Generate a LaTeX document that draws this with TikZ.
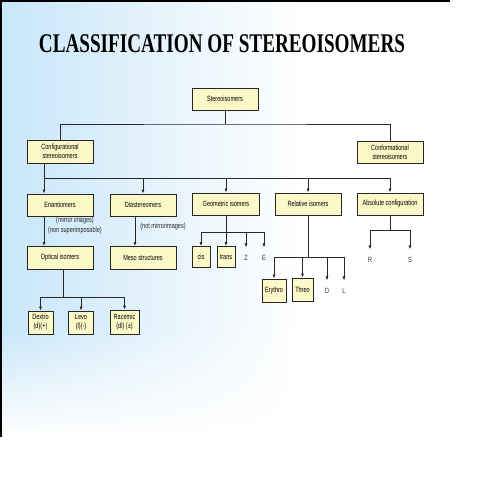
\documentclass[tikz,border=0pt]{standalone}
\usepackage{fontspec}
\setmainfont{Liberation Sans}
\newfontfamily\titlefont[FakeStretch=0.71,UprightFont={* Bold}]{Liberation Serif}
\newfontfamily\boxfont[FakeStretch=0.73]{Liberation Sans}
\usetikzlibrary{arrows.meta,shadings}
\definecolor{boxfill}{RGB}{253,248,200}
\definecolor{bgblue}{RGB}{200,230,249}
\definecolor{linegray}{RGB}{40,40,40}
\tikzset{
	isobox/.style={draw=black!85,line width=.8pt,fill=boxfill,minimum width=66pt,minimum height=22pt,inner sep=1pt,align=center,font=\boxfont\fontsize{7.6}{9}\selectfont},
	smallbox/.style={isobox,minimum width=18pt,minimum height=21pt},
	tag/.style={font=\boxfont\fontsize{7.6}{9}\selectfont,text=black!80,inner sep=0pt,outer sep=8pt},
	note/.style={font=\boxfont\fontsize{7.6}{10}\selectfont,text=black!85,align=center,inner sep=0pt},
	link/.style={draw=linegray,line width=.7pt},
	arr/.style={link,-{Latex[length=4pt,width=3pt]}}
}
\begin{document}
\begin{tikzpicture}[x=1pt,y=-1pt]
	\useasboundingbox(0,0)rectangle(495,495);
	\shade[left color=bgblue,right color=white](0,0)rectangle(300,330);
	\shade[upper left=bgblue,upper right=white,lower left=white,lower right=white](0,330)rectangle(300,437);
	\draw[line width=2pt](0,1)--(450,1);
	\draw[line width=2pt](1,0)--(1,437);
	\node(title)at(222,44){\titlefont\fontsize{27}{30}\selectfont CLASSIFICATION OF STEREOISOMERS};
	\node[isobox](stereo)at(225,99){Stereoisomers};
	\node[isobox,minimum height=23pt](config)at(60,151.5){Configurational\\stereoisomers};
	\node[isobox](conform)at(390,152.5){Conformational\\stereoisomers};
	\node[isobox](enant)at(60,205){Enantiomers};
	\node[isobox](diast)at(143,205){Diastereomers};
	\node[isobox,minimum width=67pt](geom)at(226,204){Geometric isomers};
	\node[isobox](relat)at(308,204){Relative isomers};
	\node[isobox](absol)at(390,204){Absolute configuration};
	\node[isobox,minimum height=23pt](optic)at(60,258){Optical isomers};
	\node[isobox,minimum height=23pt](meso)at(143,258){Meso structures};
	\node[smallbox](cis)at(201,257){cis};
	\node[smallbox](trans)at(226,257){trans};
	\node[tag](zz)at(246,258){Z};
	\node[tag](ee)at(264,258){E};
	\node[smallbox,minimum width=25pt,minimum height=23pt](dextro)at(40.5,322.5){Dextro\\(d)(+)};
	\node[smallbox,minimum width=25pt,minimum height=23pt](levo)at(81,322.5){Levo\\(l)(-)};
	\node[smallbox,minimum width=29pt,minimum height=24pt](racem)at(124.5,322){Racemic\\(dl) (±)};
	\node[smallbox,minimum width=24pt,minimum height=23pt](eryth)at(274,290.5){Erythro};
	\node[smallbox,minimum width=21pt,minimum height=23pt](threo)at(302.5,289.5){Threo};
	\node[tag](dd)at(327,291){D};
	\node[tag](ll)at(344,291){L};
	\node[tag](rr)at(370,260){R};
	\node[tag](ss)at(410,260){S};
	\node[note](mirror)at(75,226){(mirror images)\\(non superimposable)};
	\node[note](notmirror)at(163,227){(not mirrorimages)};
	\coordinate(j0)at(225,124);
	\coordinate(j1)at(44,178);
	\coordinate(j2)at(63,297);
	\coordinate(j3)at(226,232);
	\coordinate(j4)at(308,257);
	\coordinate(j5)at(390,230);
	\draw[link](stereo)--(j0);
	\draw[link](config.north)|-(j0)-|(conform.north);
	\draw[arr]([xshift=-16pt]config.south)--([xshift=-16pt]enant.north);
	\draw[link](j1)--(j1-|absol);
	\foreach \n in {diast,geom,relat,absol}\draw[arr](j1-|\n)--(\n);
	\draw[arr]([xshift=-16pt]enant.south)--([xshift=-16pt]optic.north);
	\draw[arr]([xshift=-8pt]diast.south)--([xshift=-8pt]meso.north);
	\draw[link]([xshift=3pt]optic.south)--(j2);
	\draw[link](j2-|dextro)--(j2-|racem);
	\foreach \n in {dextro,levo,racem}\draw[arr](j2-|\n)--(\n);
	\draw[link](geom)--(j3);
	\draw[link](j3-|cis)--(j3-|ee);
	\foreach \n in {cis,trans,zz,ee}\draw[arr](j3-|\n)--(\n);
	\draw[link](relat)--(j4);
	\draw[link](j4-|eryth)--(j4-|ll);
	\foreach \n in {eryth,threo,dd,ll}\draw[arr](j4-|\n)--(\n);
	\draw[link](absol)--(j5);
	\draw[link](j5-|rr)--(j5-|ss);
	\foreach \n in {rr,ss}\draw[arr](j5-|\n)--(\n);
\end{tikzpicture}
\end{document}
